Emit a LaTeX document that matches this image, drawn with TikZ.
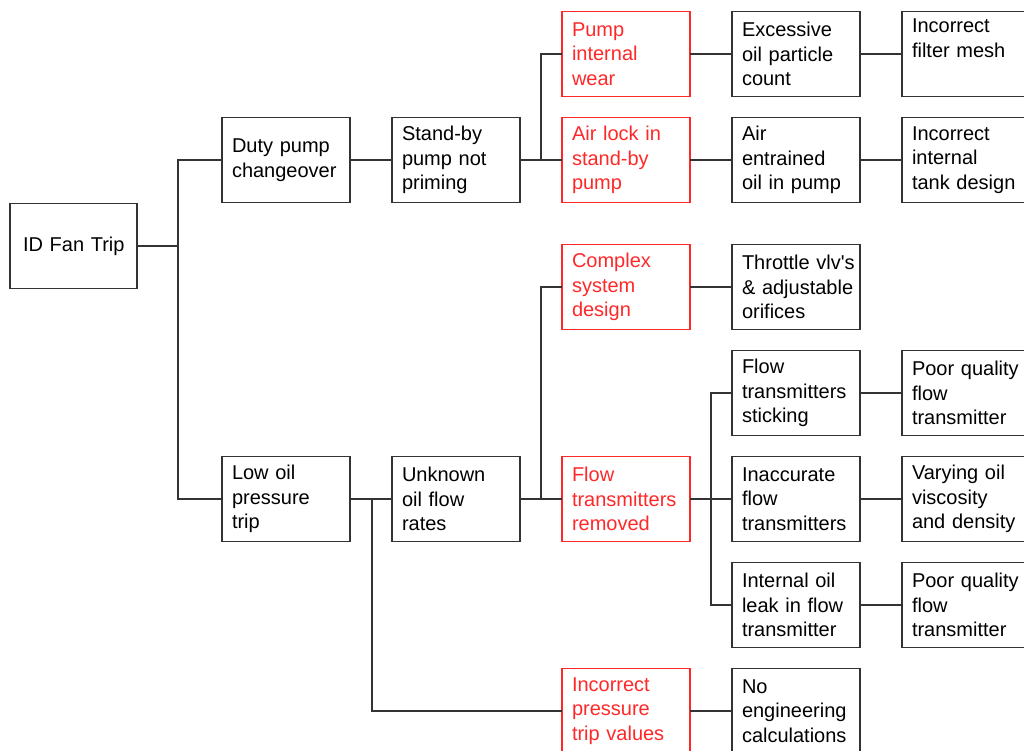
\documentclass[tikz,border=0pt]{standalone}
\usepackage{fontspec}
\setmainfont{Liberation Sans}
\usetikzlibrary{matrix}
\definecolor{causered}{RGB}{255,40,40}
\definecolor{linegray}{RGB}{51,51,51}
\newcommand\boxfont{\fontsize{20}{24.5}\selectfont\hyphenpenalty=10000\relax\exhyphenpenalty=10000\relax}

\begin{document}
\begin{tikzpicture}[x=1pt, y=-1pt,
    box/.style={draw=linegray, line width=1.3pt, text width=108pt, align=left,
      inner xsep=10pt, inner ysep=2pt, minimum width=128pt, minimum height=85pt,
      outer sep=0, anchor=center, font=\boxfont},
    r/.style={draw=causered, text=causered},
    link/.style={draw=linegray, line width=1.3pt}
  ]
    \clip (0,0) rectangle (1024,751);
    \node[box, text width=101pt, inner xsep=13pt, minimum width=127pt] (ID) at (73.5,246) {ID~Fan~Trip};
    \matrix (M) [matrix of nodes, nodes={box}, column sep=40.7pt, row sep=19.7pt,
        matrix anchor=M-2-1.center] at (286,160)
      {
        & & |[r]| {Pump\\internal\\wear} & {Excessive\\oil~particle\\count} & {Incorrect\\filter~mesh\\\strut} \\
        {Duty~pump\\changeover} & {Stand-by\\pump~not\\priming} & |[r]| {Air~lock~in\\stand-by\\pump} & {Air\\entrained\\oil~in~pump} & {Incorrect\\internal\\tank~design} \\[21pt]
        & & |[r]| {Complex\\system\\design} & {\makebox[108pt][l]{Throttle~vlv\textquotesingle s}\\\makebox[108pt][l]{\&~adjustable}\\orifices} & \\
        & & & {Flow\\transmitters\\sticking} & {Poor~quality\\flow\\transmitter} \\
        {Low~oil\\pressure\\trip} & {Unknown\\oil~flow\\rates} & |[r]| {Flow\\transmitters\\removed} & {Inaccurate\\flow\\transmitters} & {Varying~oil\\viscosity\\and~density} \\
        & & & {Internal~oil\\leak~in~flow\\transmitter} & {Poor~quality\\flow\\transmitter} \\
        & & |[r]| {Incorrect\\pressure\\trip~values} & {No\\engineering\\calculations} & \\
      };
    % branching links
    \draw[link] (ID.east) -- ++(41,0) coordinate (j1) |- (M-2-1.west) (j1) |- (M-5-1.west);
    \draw[link] (M-2-2.east) -- ++(21,0) coordinate (j2) |- (M-1-3.west) (j2) -- (M-2-3.west);
    \draw[link] (M-5-1.east) -- ++(22,0) |- (M-7-3.west);
    \draw[link] (M-5-2.east) -- ++(21,0) coordinate (j3) |- (M-3-3.west) (j3) -- (M-5-3.west);
    \draw[link] (M-5-3.east) -- ++(21,0) coordinate (j4) |- (M-4-4.west) (j4) |- (M-6-4.west) (j4) -- (M-5-4.west);
    % straight links
    \foreach \r/\c in {1/3,1/4,2/1,2/3,2/4,3/3,4/4,5/1,5/4,6/4,7/3} {
      \pgfmathtruncatemacro{\n}{\c+1}
      \draw[link] (M-\r-\c.east) -- (M-\r-\n.west);
    }
\end{tikzpicture}
\end{document}
